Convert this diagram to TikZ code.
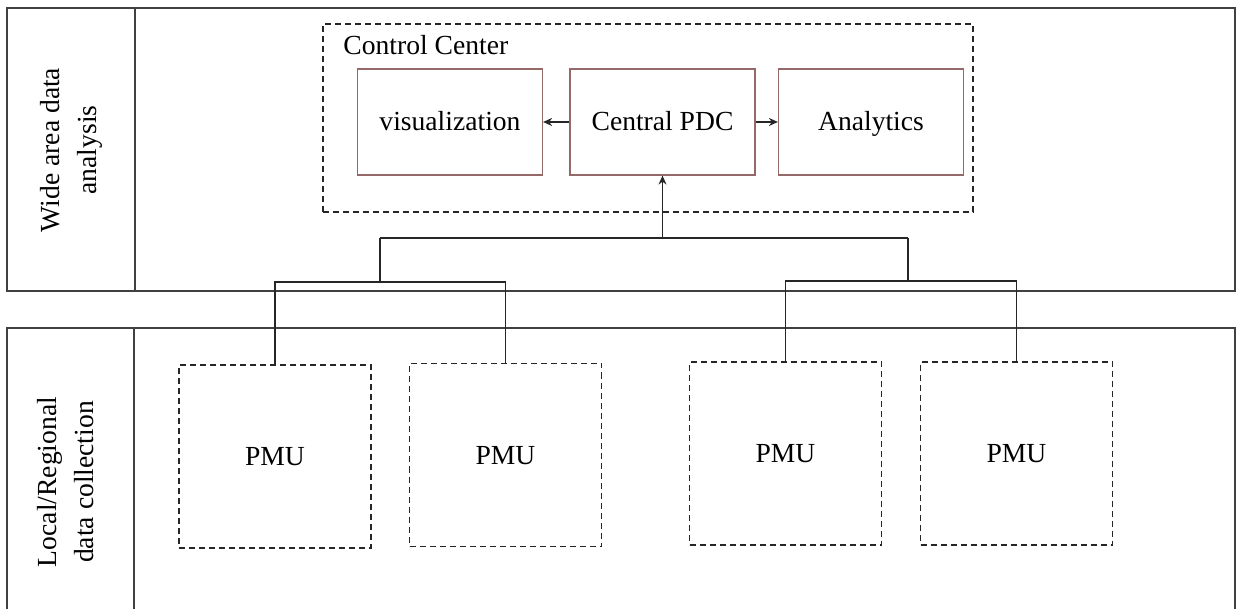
\documentclass[tikz,border=0pt]{standalone}
\usepackage{fontspec}
\setmainfont{Liberation Serif}
\usetikzlibrary{arrows.meta}
\usetikzlibrary{positioning}
\definecolor{boxbrown}{RGB}{150,105,105}
\tikzset{band/.style={draw=black!75, line width=0.75pt}}
\tikzset{side/.style={rotate=90, align=center}}
\tikzset{cell/.style={rectangle, draw=boxbrown, line width=0.6pt, minimum width=92.5pt, minimum height=53pt, inner sep=0pt,
   text height=10pt, text depth=1pt}}
\tikzset{pmu/.style={rectangle, draw=black!85, dash pattern=on 3pt off 2pt, line width=0.65pt, minimum width=96pt, minimum height=91.5pt, inner sep=0pt,
   text height=10pt, text depth=1pt}}
\tikzset{wire/.style={draw=black!85, line width=0.65pt}}
\tikzset{tip/.style={-{Stealth[length=4.5pt, width=4pt]}}}

\begin{document}
\begin{tikzpicture}[x=0.5pt, y=-0.5pt, font=\fontsize{13.8pt}{18.5pt}\selectfont]

    \useasboundingbox (0,0) rectangle (1243,609);

    \draw[band] (7,8) rectangle (1235,291);
    \draw[band] (135,8) -- (135,291);
    \draw[band] (7,609) -- (7,328) -- (1235,328) -- (1235,609);
    \draw[band] (134,328) -- (134,609);

    \node[side] (wide)  at (71,150) {Wide area data\\analysis};
    \node[side] (local) at (66,482) {Local/Regional\\data collection};

    \node[rectangle, draw=black!85, dash pattern=on 3pt off 2pt, line width=0.65pt,
          minimum width=325pt, minimum height=94pt, inner sep=0pt] (cc) at (648,118) {};
    \node[anchor=base west, inner sep=0pt] (cctitle) at (343,55) {Control Center};

    \node[cell] (vis) at (450,122)   {visualization};
    \node[cell] (pdc) at (662.5,122) {Central PDC};
    \node[cell] (ana) at (871,122)   {Analytics};

    \node[pmu] (pmu1) at (275,456.5)    {PMU};
    \node[pmu] (pmu2) at (505.5,455)    {PMU};
    \node[pmu] (pmu3) at (785.5,453.5)  {PMU};
    \node[pmu] (pmu4) at (1016.5,453.5) {PMU};

    \coordinate (hub) at (662.5,238);
    \coordinate (jl) at (380,238);
    \coordinate (jr) at (908,238);
    \coordinate (sl) at (380,282);
    \coordinate (sr) at (908,281);

    \draw[wire, tip] (pdc.west) -- (vis.east);
    \draw[wire, tip] (pdc.east) -- (ana.west);
    \draw[wire, tip] (hub) -- (pdc.south);

    \draw[wire] (jl) -- (jr);
    \draw[wire] (jl) -- (sl);
    \draw[wire] (jr) -- (sr);
    \draw[wire] (sl) -| (pmu1.north);
    \draw[wire] (sl) -| (pmu2.north);
    \draw[wire] (sr) -| (pmu3.north);
    \draw[wire] (sr) -| (pmu4.north);

  \end{tikzpicture}
\end{document}
